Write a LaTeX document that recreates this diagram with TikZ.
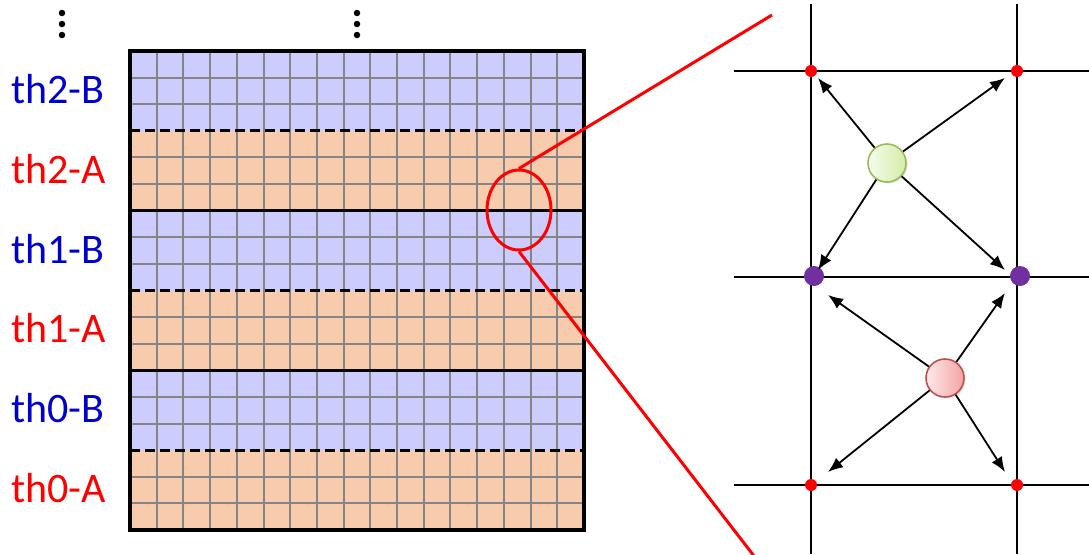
\documentclass[tikz,border=0pt]{standalone}
\usepackage{fontspec}
\setmainfont{Carlito}
\usetikzlibrary{shapes.geometric,arrows.meta,shadows}
\definecolor{bandB}{HTML}{CCCCFF}
\definecolor{bandA}{HTML}{F8CBAD}
\definecolor{labB}{HTML}{0000CC}
\definecolor{labA}{HTML}{FF0000}
\definecolor{gridgray}{HTML}{858585}
\definecolor{purp}{HTML}{7030A0}
\definecolor{grnL}{HTML}{F6FCEE}
\definecolor{grnR}{HTML}{D4EDA6}
\definecolor{grnB}{HTML}{9BBB59}
\definecolor{redL}{HTML}{FDEAEA}
\definecolor{redR}{HTML}{F4A3A3}
\definecolor{redB}{HTML}{C0504D}
\tikzset{
  gridline/.style={gridgray, line width=2pt},
  sepsolid/.style={black, line width=2.8pt},
  sepdash/.style={black, line width=2.8pt, dash pattern=on 10pt off 5pt},
  border/.style={black, line width=3.2pt},
  lab/.style={anchor=base west, inner sep=0pt, font=\fontsize{42}{48}\selectfont},
  vdot/.style={circle, fill=black, inner sep=0pt, minimum size=6.5pt},
  zoomring/.style={ellipse, draw=red, line width=3pt, inner sep=0pt, minimum width=64pt, minimum height=80pt},
  redline/.style={red, line width=3pt},
  panel/.style={black, line width=2pt},
  rdot/.style={circle, fill=red, inner sep=0pt, minimum size=12pt},
  pdot/.style={circle, fill=purp, inner sep=0pt, minimum size=20pt},
  particle/.style={circle, inner sep=0pt, minimum size=38pt, line width=1.6pt,
     drop shadow={opacity=0.25, shadow xshift=1.5pt, shadow yshift=-1.5pt}},
  arr/.style={black, line width=1.8pt, -{Latex[length=15pt,width=12pt]}},
}
\begin{document}
\begin{tikzpicture}[x=1pt,y=-1pt]
\useasboundingbox (0,0) rectangle (1089,554);
% bands
\foreach \i/\c in {0/bandB,1/bandA,2/bandB,3/bandA,4/bandB,5/bandA}
  \fill[\c] (130,{51+479/6*\i}) rectangle (584,{51+479/6*(\i+1)});
% grid
\foreach \k in {1,...,16}
  \draw[gridline] ({130+\k*454/17},51) -- ({130+\k*454/17},530);
\foreach \k in {1,2,4,5,7,8,10,11,13,14,16,17}
  \draw[gridline] (130,{51+\k*479/18}) -- (584,{51+\k*479/18});
% separators
\foreach \k in {3,9,15}
  \draw[sepdash] (130,{51+\k*479/18}) -- (584,{51+\k*479/18});
\foreach \k in {6,12}
  \draw[sepsolid] (130,{51+\k*479/18}) -- (584,{51+\k*479/18});
\draw[border] (130,51) rectangle (584,530);
% labels
\node[lab, labB] (th2B) at (11,103) {th2-B};
\node[lab, labA] (th2A) at (11,183) {th2-A};
\node[lab, labB] (th1B) at (11,263) {th1-B};
\node[lab, labA] (th1A) at (11,342) {th1-A};
\node[lab, labB] (th0B) at (11,422) {th0-B};
\node[lab, labA] (th0A) at (11,502) {th0-A};
% vertical ellipses
\foreach \x/\n in {62/a,357/b}{
  \node[vdot] (vd\n1) at (\x,13) {};
  \node[vdot] (vd\n2) at (\x,24) {};
  \node[vdot] (vd\n3) at (\x,35) {};
}
% right panel lines
\draw[panel] (811,4) -- (811,554);
\draw[panel] (1017,4) -- (1017,554);
\draw[panel] (734,71) -- (1089,71);
\draw[panel] (734,277) -- (1089,277);
\draw[panel] (734,485) -- (1089,485);
% corner dots
\node[rdot] (c1) at (811,71) {};
\node[rdot] (c2) at (1017,71) {};
\node[rdot] (c3) at (811,485) {};
\node[rdot] (c4) at (1017,485) {};
\node[pdot] (p1) at (814,276) {};
\node[pdot] (p2) at (1020,276) {};
% particles
\node[particle, draw=grnB, left color=grnL, right color=grnR] (g) at (887,163) {};
\node[particle, draw=redB, left color=redL, right color=redR] (r) at (945,378) {};
% arrow ends
\coordinate (gNW) at (818,78);
\coordinate (gNE) at (1005,78);
\coordinate (gSW) at (818,270);
\coordinate (gSE) at (1005,270);
\coordinate (rNW) at (828,295);
\coordinate (rNE) at (1005,293);
\coordinate (rSW) at (828,472);
\coordinate (rSE) at (1005,472);
\foreach \t in {NW,NE,SW,SE}{
  \draw[arr] (g) -- (g\t);
  \draw[arr] (r) -- (r\t);
}
% zoom ring and lines
\node[zoomring] (zoom) at (519,210) {};
\coordinate (zA) at (772,15);
\coordinate (zB) at (754,556);
\draw[redline] (zoom.north) -- (zA);
\draw[redline] (zoom.south) -- (zB);
\end{tikzpicture}
\end{document}
